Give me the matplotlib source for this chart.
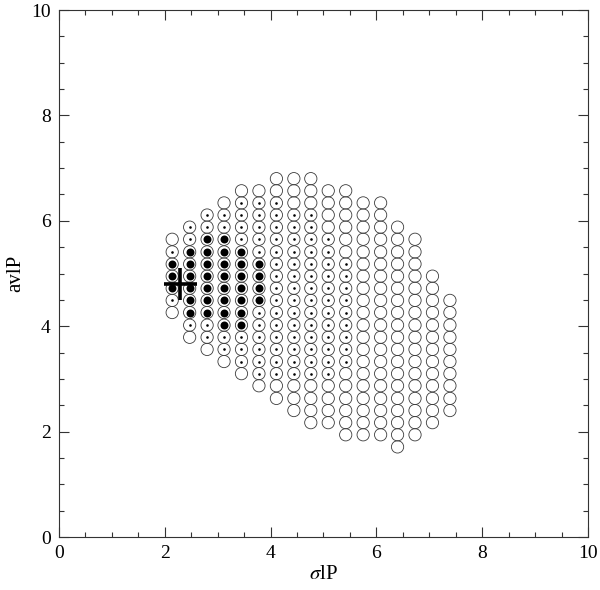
import matplotlib
matplotlib.use("Agg")
import matplotlib.pyplot as plt

# columns of the model grid (sigma lP) and rows (av lP)
col_x = [2.14, 2.47, 2.80, 3.12, 3.45, 3.78, 4.11, 4.44, 4.76,
         5.09, 5.42, 5.75, 6.08, 6.40, 6.73, 7.06, 7.39]
row_y = [1.71, 1.94, 2.17, 2.40, 2.63, 2.87, 3.10, 3.33, 3.56, 3.79, 4.02, 4.26,
         4.49, 4.72, 4.95, 5.18, 5.41, 5.65, 5.88, 6.11, 6.34, 6.57, 6.80]

# index of the lowest row used in each column, then one code per row going up
# o = open circle, s = small dot, b = big dot
col_first_row = [11, 9, 8, 7, 6, 5, 4, 3, 2, 2, 1, 1, 1, 0, 1, 2, 3]
col_codes = [
    "osbbbso",
    "osbbbbbbss",
    "ossbbbbbbbss",
    "ossbbbbbbbbsso",
    "osssbbbbbbbsssso",
    "ossssssbbbbssssso",
    "oosssssssssssssssoo",
    "ooossssssssssssssooo",
    "oooossssssssssssssooo",
    "oooossssssssssssoooo",
    "oooooosssssssssoooooo",
    "oooooooooooooooooooo",
    "oooooooooooooooooooo",
    "ooooooooooooooooooo",
    "ooooooooooooooooo",
    "ooooooooooooo",
    "oooooooooo",
]

# best fit point and its error bars
best_x, best_y = 2.29, 4.80
best_xerr, best_yerr = 0.31, 0.30

circ_x, circ_y = [], []
small_x, small_y = [], []
big_x, big_y = [], []
for x, first, codes in zip(col_x, col_first_row, col_codes):
    for i, code in enumerate(codes):
        y = row_y[first + i]
        circ_x.append(x)
        circ_y.append(y)
        if code == "s":
            small_x.append(x)
            small_y.append(y)
        elif code == "b":
            big_x.append(x)
            big_y.append(y)

plt.rcParams["font.family"] = ["Liberation Serif", "DejaVu Serif"]
plt.rcParams["mathtext.fontset"] = "stix"

fig = plt.figure(figsize=(6.0, 5.9), dpi=100)
ax = fig.add_axes([0.0983, 0.0898, 0.8817, 0.8932])

ax.scatter(circ_x, circ_y, s=78, facecolors="none", edgecolors="#3a3a3a",
           linewidths=0.6, zorder=2)
ax.scatter(small_x, small_y, s=3.5, color="black", linewidths=0, zorder=3)
ax.scatter(big_x, big_y, s=33, color="black", linewidths=0, zorder=3)
ax.errorbar([best_x], [best_y], xerr=[best_xerr], yerr=[best_yerr], fmt="none",
            ecolor="black", elinewidth=2.6, capsize=0, zorder=4)

ax.set_xlim(0, 10)
ax.set_ylim(0, 10)
ax.set_xticks([0, 2, 4, 6, 8, 10])
ax.set_yticks([0, 2, 4, 6, 8, 10])
ax.set_xticks([i * 0.5 for i in range(21)], minor=True)
ax.set_yticks([i * 0.5 for i in range(21)], minor=True)
ax.tick_params(which="both", direction="in", top=True, right=True,
               width=0.8, color="#333333")
ax.tick_params(which="major", length=7, labelsize=14, pad=6)
ax.tick_params(which="minor", length=3.6)
for spine in ax.spines.values():
    spine.set_linewidth(0.8)
    spine.set_color("#333333")

ax.set_xlabel(r"$\sigma$lP", fontsize=15, labelpad=2)
ax.set_ylabel("avlP", fontsize=15, labelpad=4)

fig.savefig("out.png", dpi=100)
